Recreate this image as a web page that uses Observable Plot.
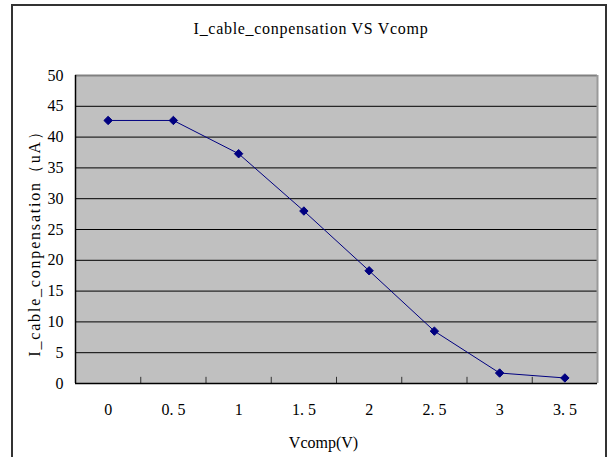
<!DOCTYPE html>
<html>
<head>
<meta charset="utf-8">
<script src="https://cdn.jsdelivr.net/npm/d3@7"></script>
<script src="https://cdn.jsdelivr.net/npm/@observablehq/plot@0.6"></script>
<style>
  html, body { margin: 0; padding: 0; background: #fff; }
  #wrap { position: relative; width: 608px; height: 457px; overflow: hidden; font-family: "Liberation Serif", serif; }
  #frame { position: absolute; left: 11px; top: 4px; width: 592px; height: 470px; border: 2px solid #333; pointer-events: none; }
  #title { position: absolute; top: 20px; left: 0; width: 622px; text-align: center; font-size: 16px; letter-spacing: 0.7px; color: #000; }
  #chart { position: absolute; left: 0; top: 0; }
</style>
</head>
<body>
<div id="wrap">
  <div id="chart"></div>
  <div id="title">I_cable_conpensation VS Vcomp</div>
  <div id="frame"></div>
</div>
<script>
const vcomp = [0, 0.5, 1, 1.5, 2, 2.5, 3, 3.5];
const current = [42.7, 42.7, 37.3, 28.0, 18.3, 8.5, 1.7, 0.9];
const yTicks = [0, 5, 10, 15, 20, 25, 30, 35, 40, 45, 50];

const data = vcomp.map((v, i) => ({v, c: current[i]}));
const half = (vcomp[1] - vcomp[0]) / 2;
const xDomain = [vcomp[0] - half, vcomp[vcomp.length - 1] + half];
const bounds = d3.range(vcomp.length + 1).map(i => vcomp[0] - half + i * 2 * half);
const inner = bounds.slice(1, -1);

const plot = Plot.plot({
  width: 608,
  height: 457,
  marginLeft: 75,
  marginRight: 11,
  marginTop: 75,
  marginBottom: 74,
  style: {fontFamily: "'Liberation Serif', serif", fontSize: "16px", background: "transparent", color: "#000"},
  x: {domain: xDomain, ticks: vcomp, tickFormat: d => String(d).replace(".", ". "), tickSize: 0, tickPadding: 20, label: "Vcomp(V)", labelAnchor: "center", labelArrow: "none", labelOffset: 64},
  y: {domain: [yTicks[0], yTicks[yTicks.length - 1]], ticks: yTicks, tickSize: 0, tickPadding: 12, label: "I_cable_conpensation（uA）", labelAnchor: "center", labelArrow: "none", labelOffset: 47},
  marks: [
    Plot.frame({fill: "#c0c0c0"}),
    Plot.ruleY(yTicks.slice(1, -1), {stroke: "#000", strokeWidth: 1}),
    Plot.ruleY([yTicks[yTicks.length - 1]], {stroke: "#808080", strokeWidth: 2}),
    Plot.ruleX([xDomain[1]], {stroke: "#9a9a9a", strokeWidth: 2}),
    Plot.ruleX(inner, {y1: 0, y2: 1, stroke: "#333", strokeWidth: 1}),
    Plot.ruleX([xDomain[0]], {stroke: "#000", strokeWidth: 1.5}),
    Plot.ruleY([0], {stroke: "#000", strokeWidth: 1.5}),
    Plot.line(data, {x: "v", y: "c", stroke: "#000080", strokeWidth: 1}),
    Plot.dot(data, {x: "v", y: "c", symbol: "diamond2", r: 3.8, fill: "#000080", stroke: "#000080", strokeWidth: 1})
  ]
});
// fine-tune axis title placement to match the reference
const xl = plot.querySelector('g[aria-label="x-axis label"]');
if (xl) xl.setAttribute("transform", (xl.getAttribute("transform") || "") + " translate(-13,0)");
const yl = plot.querySelector('g[aria-label="y-axis label"]');
if (yl) {
  yl.setAttribute("transform", (yl.getAttribute("transform") || "") + " translate(0,10)");
  yl.querySelectorAll("text").forEach(t => t.setAttribute("letter-spacing", "1.8"));
}
document.getElementById("chart").appendChild(plot);
</script>
</body>
</html>
